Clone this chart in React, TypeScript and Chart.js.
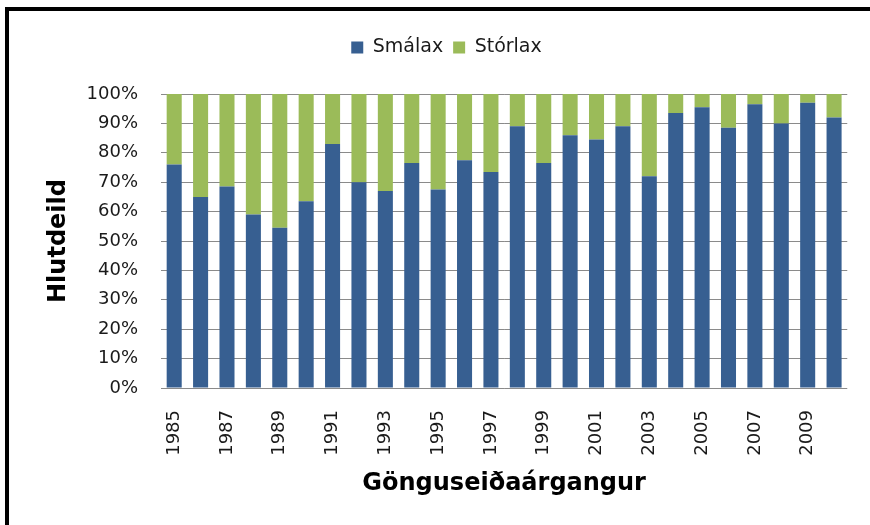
import React, { useEffect, useRef } from "react";
import { Chart, registerables } from "chart.js";

Chart.register(...registerables);

const years: string[] = [
  "1985", "1986", "1987", "1988", "1989", "1990", "1991", "1992", "1993",
  "1994", "1995", "1996", "1997", "1998", "1999", "2000", "2001", "2002",
  "2003", "2004", "2005", "2006", "2007", "2008", "2009", "2010",
];

const smalax: number[] = [
  76, 65, 68.5, 59, 54.5, 63.5, 83, 70, 67, 76.5, 67.5, 77.5, 73.5,
  89, 76.5, 86, 84.5, 89, 72, 93.5, 95.5, 88.5, 96.5, 90, 97, 92,
];

const storlax: number[] = [
  24, 35, 31.5, 41, 45.5, 36.5, 17, 30, 33, 23.5, 32.5, 22.5, 26.5,
  11, 23.5, 14, 15.5, 11, 28, 6.5, 4.5, 11.5, 3.5, 10, 3, 8,
];

const yTicks: number[] = [0, 10, 20, 30, 40, 50, 60, 70, 80, 90, 100];

const seriesNames = ["Smálax", "Stórlax"];
const xTitle = "Gönguseiðaárgangur";
const yTitle = "Hlutdeild";

const BLUE = "#375F91";
const GREEN = "#9BBB59";
const GRID = "#8a8a8a";

export default function App() {
  const canvasRef = useRef<HTMLCanvasElement | null>(null);

  useEffect(() => {
    document.body.style.margin = "0";
    const canvas = canvasRef.current;
    if (!canvas) return;
    const LAYOUT_TOP = 28;
    const LAYOUT_LEFT = 40;
    const LAYOUT_BOTTOM = 27;
    const LEGEND_BOTTOM = 94;
    const Y_SCALE_WIDTH = 161 - LAYOUT_LEFT;
    const X_SCALE_HEIGHT = 525 - LAYOUT_BOTTOM - 388;

    const legendSpacing = {
      id: "legendSpacing",
      beforeInit(chart: any) {
        const legend = chart.legend;
        if (!legend) return;
        const orig = legend.fit;
        legend.fit = function () {
          orig.call(this);
          this.height = LEGEND_BOTTOM - LAYOUT_TOP;
        };
      },
    };

    const chart = new Chart(canvas, {
      type: "bar",
      data: {
        labels: years,
        datasets: [
          {
            label: seriesNames[0],
            data: smalax,
            backgroundColor: BLUE,
            borderWidth: 0,
            barPercentage: 0.57,
            categoryPercentage: 1,
          },
          {
            label: seriesNames[1],
            data: storlax,
            backgroundColor: GREEN,
            borderWidth: 0,
            barPercentage: 0.57,
            categoryPercentage: 1,
          },
        ],
      },
      options: {
        responsive: false,
        animation: false,
        layout: {
          padding: { left: LAYOUT_LEFT, right: 17, top: LAYOUT_TOP, bottom: LAYOUT_BOTTOM },
        },
        plugins: {
          legend: {
            display: true,
            position: "top",
            labels: {
              boxWidth: 12,
              boxHeight: 12,
              padding: 10,
              color: "#1a1a1a",
              font: { family: "DejaVu Sans", size: 19 },
            },
          },
          tooltip: { enabled: false },
        },
        scales: {
          x: {
            stacked: true,
            grid: { display: false },
            border: { display: false },
            afterFit: (scale: any) => {
              scale.height = X_SCALE_HEIGHT;
            },
            ticks: {
              autoSkip: false,
              maxRotation: 90,
              minRotation: 90,
              padding: 14,
              color: "#1a1a1a",
              font: { family: "DejaVu Sans", size: 18 },
              callback: function (_v: any, i: number) {
                return i % 2 === 0 ? years[i] : "";
              },
            },
            title: {
              display: true,
              text: xTitle,
              color: "#000",
              padding: { top: 0, bottom: 0 },
              font: { family: "DejaVu Sans", size: 24, weight: "bold" },
            },
          },
          y: {
            stacked: true,
            min: 0,
            max: 100,
            afterBuildTicks: (scale: any) => {
              scale.ticks = yTicks.map((v) => ({ value: v }));
            },
            afterFit: (scale: any) => {
              scale.width = Y_SCALE_WIDTH;
            },
            grid: { color: GRID, lineWidth: 1, drawTicks: false },
            border: { display: false },
            ticks: {
              padding: 23,
              color: "#1a1a1a",
              font: { family: "DejaVu Sans", size: 18 },
              callback: (v: any) => v + "%",
            },
            title: {
              display: true,
              text: yTitle,
              color: "#000",
              padding: { top: 4, bottom: 0 },
              font: { family: "DejaVu Sans", size: 24, weight: "bold" },
            },
          },
        },
      },
      plugins: [legendSpacing],
    });
    return () => chart.destroy();
  }, []);

  return (
    <div
      style={{
        position: "absolute",
        left: 0,
        top: 0,
        width: 870,
        height: 525,
        overflow: "hidden",
        background: "#fff",
      }}
    >
      <canvas
        ref={canvasRef}
        width={870}
        height={525}
        style={{ position: "absolute", left: 0, top: 0, width: 870, height: 525 }}
      />
      <div
        style={{
          position: "absolute",
          left: 5,
          top: 7,
          width: 900,
          height: 600,
          borderTop: "4px solid #000",
          borderLeft: "4px solid #000",
          pointerEvents: "none",
        }}
      />
    </div>
  );
}
